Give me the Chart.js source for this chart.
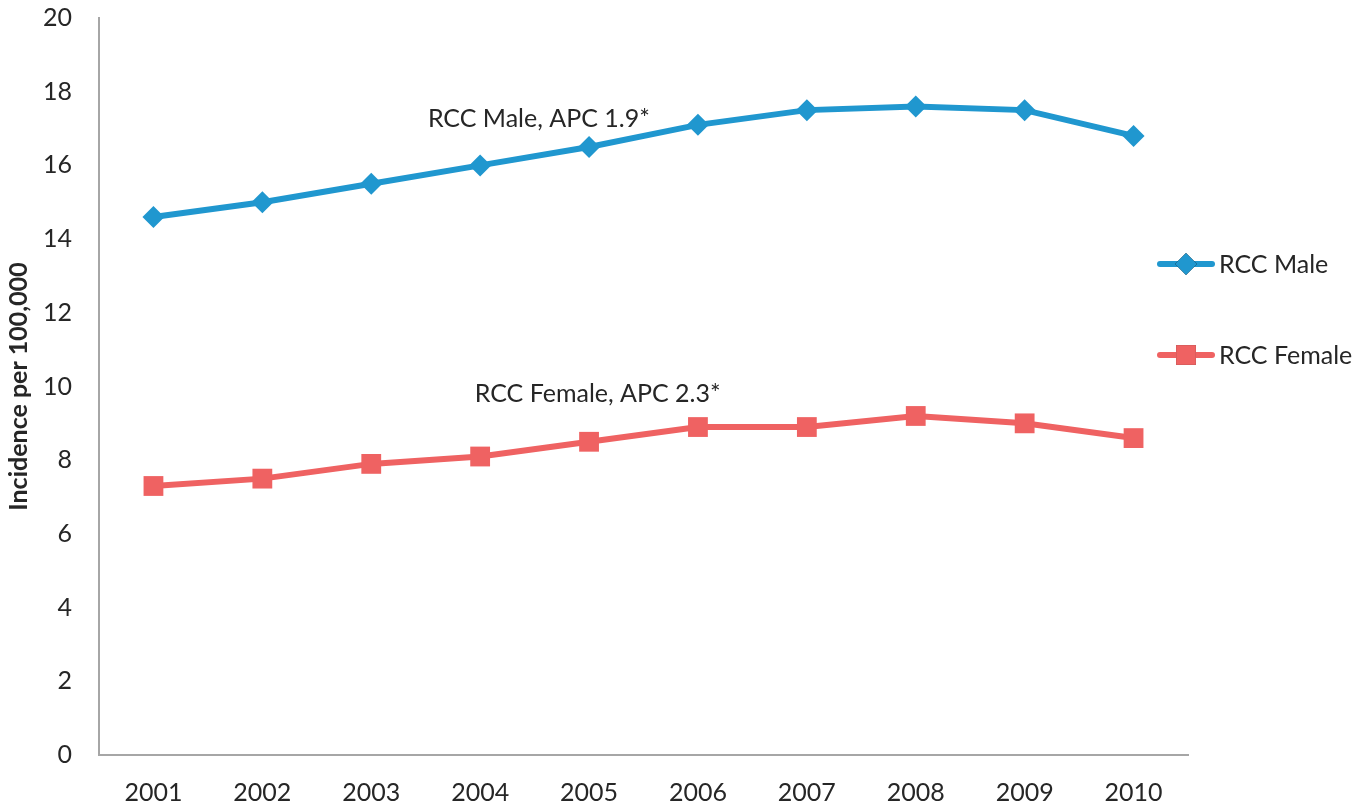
<!DOCTYPE html>
<html>
<head>
<meta charset="utf-8">
<script src="https://cdn.jsdelivr.net/npm/chart.js@4/dist/chart.umd.min.js"></script>
<style>
  html, body { margin: 0; padding: 0; background: #fff; }
  #wrap { width: 1371px; height: 808px; }
</style>
</head>
<body>
<div id="wrap"><canvas id="rcc-chart" width="1371" height="808"></canvas></div>
<script>
// dados do gráfico
const anos = ['2001', '2002', '2003', '2004', '2005', '2006', '2007', '2008', '2009', '2010'];
const rccMale = [14.6, 15.0, 15.5, 16.0, 16.5, 17.1, 17.5, 17.6, 17.5, 16.8];
const rccFemale = [7.3, 7.5, 7.9, 8.1, 8.5, 8.9, 8.9, 9.2, 9.0, 8.6];
const nomesSeries = ['RCC Male', 'RCC Female'];
const rotulosApc = ['RCC Male, APC 1.9*', 'RCC Female, APC 2.3*'];

const corAzul = '#2097cf';
const corVermelha = '#ef6262';
const corTexto = '#262626';
const fonte = 'Lato, "Open Sans", sans-serif';

// Legenda à direita, desenhada à mão
const legendaLateral = {
    id: 'legendaLateral',
    afterDraw(chart) {
        const ctx = chart.ctx;
        const itens = [
            { y: 264, ds: chart.data.datasets[0] },
            { y: 355, ds: chart.data.datasets[1] }
        ];
        ctx.save();
        itens.forEach(it => {
            ctx.strokeStyle = it.ds.borderColor;
            ctx.lineWidth = 6;
            ctx.lineCap = 'round';
            ctx.beginPath();
            ctx.moveTo(1160, it.y);
            ctx.lineTo(1212, it.y);
            ctx.stroke();
            Chart.helpers.drawPoint(ctx, {
                pointStyle: it.ds.pointStyle,
                radius: it.ds.pointRadius,
                borderWidth: 0,
                rotation: 0
            }, 1186, it.y);
            ctx.fillStyle = it.ds.backgroundColor;
            ctx.fill();
            ctx.fillStyle = corTexto;
            ctx.font = '25px ' + fonte;
            ctx.textAlign = 'left';
            ctx.textBaseline = 'middle';
            ctx.fillText(it.ds.label, 1219, it.y + 1);
        });
        ctx.restore();
    }
};

// Rótulos de APC ao lado das linhas
const rotulosLinhas = {
    id: 'rotulosLinhas',
    afterDatasetsDraw(chart) {
        const { ctx, scales: { x, y } } = chart;
        const posicoes = [
            { xi: 2.52, yv: 17.04, texto: rotulosApc[0] },
            { xi: 2.95, yv: 9.58, texto: rotulosApc[1] }
        ];
        ctx.save();
        ctx.fillStyle = corTexto;
        ctx.font = '25px ' + fonte;
        ctx.textAlign = 'left';
        ctx.textBaseline = 'alphabetic';
        posicoes.forEach(p => {
            ctx.fillText(p.texto, x.getPixelForValue(p.xi), y.getPixelForValue(p.yv));
        });
        ctx.restore();
    }
};

const config = {
    type: 'line',
    data: {
        labels: anos,
        datasets: [{
            label: nomesSeries[0],
            data: rccMale,
            borderColor: corAzul,
            backgroundColor: corAzul,
            borderWidth: 6,
            pointStyle: 'rectRot',
            pointRadius: 11,
            pointBorderWidth: 0,
            tension: 0
        }, {
            label: nomesSeries[1],
            data: rccFemale,
            borderColor: corVermelha,
            backgroundColor: corVermelha,
            borderWidth: 6,
            pointStyle: 'rect',
            pointRadius: 14,
            pointBorderWidth: 0,
            tension: 0
        }]
    },
    options: {
        responsive: false,
        animation: false,
        layout: {
            padding: { top: 18, right: 183, bottom: 0, left: 0 }
        },
        plugins: {
            legend: { display: false },
            tooltip: { enabled: false }
        },
        scales: {
            x: {
                offset: true,
                grid: { display: false, drawTicks: false },
                border: { display: true, color: '#a6a6a6', width: 2 },
                ticks: { color: corTexto, font: { family: fonte, size: 25 }, padding: 23 },
                afterFit(scale) { scale.height = 808 - 755; }
            },
            y: {
                min: 0,
                max: 20,
                grid: { display: false, drawTicks: false },
                border: { display: true, color: '#a6a6a6', width: 2 },
                ticks: { stepSize: 2, color: corTexto, font: { family: fonte, size: 25 }, padding: 27 },
                title: {
                    display: true,
                    text: 'Incidence per 100,000',
                    color: corTexto,
                    font: { family: fonte, size: 25, weight: 'bold' },
                    padding: { top: 4, bottom: 0 }
                },
                afterFit(scale) {
                    // o padding dos rótulos não deve empurrar a área do gráfico
                    scale.width = 99;
                    scale.paddingTop = 0;
                    scale.paddingBottom = 0;
                }
            }
        }
    },
    plugins: [legendaLateral, rotulosLinhas]
};

const ctx = document.getElementById('rcc-chart').getContext('2d');
const grafico = new Chart(ctx, config);
</script>
</body>
</html>
